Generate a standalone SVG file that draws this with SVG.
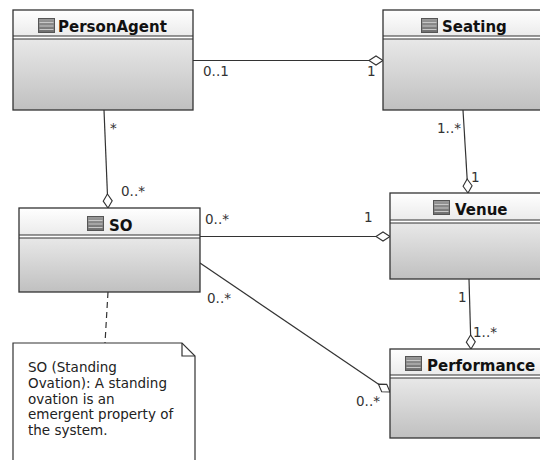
<svg xmlns="http://www.w3.org/2000/svg" xmlns:xlink="http://www.w3.org/1999/xlink" width="540" height="460" viewBox="0 0 540 460">
<style>
.hdr{fill:url(#hdrGrad);}
.body{fill:url(#bodyGrad);}
.frame{fill:none;stroke:#333;stroke-width:1.3;}
.div{stroke:#333;stroke-width:1.1;}
.title{font-family:"DejaVu Sans",sans-serif;font-weight:bold;font-size:15px;fill:#111;}
.lbl{font-family:"DejaVu Sans",sans-serif;font-size:13.5px;fill:#333;}
.note{font-family:"DejaVu Sans",sans-serif;font-size:13.5px;fill:#222;}
.conn{stroke:#333;stroke-width:1.2;fill:none;}
</style>
<defs>
<linearGradient id="hdrGrad" x1="0" y1="0" x2="0" y2="1">
<stop offset="0" stop-color="#ffffff"/>
<stop offset="1" stop-color="#ebebeb"/>
</linearGradient>
<linearGradient id="bodyGrad" x1="0" y1="0" x2="0" y2="1">
<stop offset="0" stop-color="#e8e8e8"/>
<stop offset="1" stop-color="#c0c0c0"/>
</linearGradient>
<linearGradient id="iconGrad" x1="0" y1="0" x2="0" y2="1">
<stop offset="0" stop-color="#9a9a9a"/>
<stop offset="1" stop-color="#6e6e6e"/>
</linearGradient>
<g id="icon">
<rect x="0.5" y="0.5" width="16" height="14" fill="url(#iconGrad)" stroke="#555" stroke-width="1"/>
<path d="M1.5,4.5 H15.5 M1.5,8 H15.5 M1.5,11.5 H15.5" stroke="#c8c8c8" stroke-width="1"/>
</g>
<marker id="dia" viewBox="-1 -6 17 12" refX="14" refY="0" markerWidth="17" markerHeight="12" markerUnits="userSpaceOnUse" orient="auto">
<path d="M0,0 L7,-4.5 L14,0 L7,4.5 Z" fill="#fff" stroke="#333" stroke-width="1.1"/>
</marker>
</defs>
<rect width="540" height="460" fill="#fff"/>

<g id="connectors">
<path class="conn" d="M193,60.5 L383,60.5" marker-end="url(#dia)"/>
<path class="conn" d="M104,110 L108,208" marker-end="url(#dia)"/>
<path class="conn" d="M463,110 L468,193" marker-end="url(#dia)"/>
<path class="conn" d="M200,236.5 L390,236.5" marker-end="url(#dia)"/>
<path class="conn" d="M200,263 L390,392" marker-end="url(#dia)"/>
<path class="conn" d="M469,279 L471,349" marker-end="url(#dia)"/>
<path class="conn" d="M108,292 L105,343" stroke-dasharray="6,4"/>
<text class="lbl" x="203" y="76">0..1</text>
<text class="lbl" x="367" y="76">1</text>
<text class="lbl" x="110" y="133">*</text>
<text class="lbl" x="121" y="196">0..*</text>
<text class="lbl" x="437" y="133">1..*</text>
<text class="lbl" x="471" y="182">1</text>
<text class="lbl" x="205" y="224">0..*</text>
<text class="lbl" x="364" y="222">1</text>
<text class="lbl" x="207" y="303">0..*</text>
<text class="lbl" x="458" y="302">1</text>
<text class="lbl" x="473" y="337">1..*</text>
<text class="lbl" x="356" y="406">0..*</text>
</g>

<g id="PersonAgent">
<rect class="hdr" x="13" y="10" width="180" height="26"/>
<rect class="body" x="13" y="39" width="180" height="71"/>
<line class="div" x1="13" y1="36" x2="193" y2="36"/>
<line class="div" x1="13" y1="39" x2="193" y2="39"/>
<rect class="frame" x="13" y="10" width="180" height="100"/>
<use xlink:href="#icon" x="38" y="18"/>
<text class="title" x="58" y="32">PersonAgent</text>
</g>

<g id="Seating">
<rect class="hdr" x="383" y="10" width="160" height="26"/>
<rect class="body" x="383" y="39" width="160" height="71"/>
<line class="div" x1="383" y1="36" x2="543" y2="36"/>
<line class="div" x1="383" y1="39" x2="543" y2="39"/>
<rect class="frame" x="383" y="10" width="160" height="100"/>
<use xlink:href="#icon" x="421" y="18"/>
<text class="title" x="442" y="32">Seating</text>
</g>

<g id="SO">
<rect class="hdr" x="19" y="208" width="181" height="27"/>
<rect class="body" x="19" y="238" width="181" height="54"/>
<line class="div" x1="19" y1="235" x2="200" y2="235"/>
<line class="div" x1="19" y1="238" x2="200" y2="238"/>
<rect class="frame" x="19" y="208" width="181" height="84"/>
<use xlink:href="#icon" x="87" y="216"/>
<text class="title" x="109" y="231">SO</text>
</g>

<g id="Venue">
<rect class="hdr" x="390" y="193" width="160" height="27"/>
<rect class="body" x="390" y="223" width="160" height="56"/>
<line class="div" x1="390" y1="220" x2="550" y2="220"/>
<line class="div" x1="390" y1="223" x2="550" y2="223"/>
<rect class="frame" x="390" y="193" width="160" height="86"/>
<use xlink:href="#icon" x="433" y="200"/>
<text class="title" x="455" y="215">Venue</text>
</g>

<g id="Performance">
<rect class="hdr" x="390" y="349" width="160" height="26"/>
<rect class="body" x="390" y="378" width="160" height="60"/>
<line class="div" x1="390" y1="375" x2="550" y2="375"/>
<line class="div" x1="390" y1="378" x2="550" y2="378"/>
<rect class="frame" x="390" y="349" width="160" height="89"/>
<use xlink:href="#icon" x="405" y="356"/>
<text class="title" x="427" y="371">Performance</text>
</g>

<g id="Note">
<path d="M13,343 L182,343 L195,356 L195,470 L13,470 Z" fill="#fff" stroke="#333" stroke-width="1.2"/>
<path d="M182,343 L182,356 L195,356" fill="none" stroke="#333" stroke-width="1.2"/>
<text class="note" x="28" y="372">SO (Standing</text>
<text class="note" x="28" y="388">Ovation): A standing</text>
<text class="note" x="28" y="404">ovation is an</text>
<text class="note" x="28" y="419">emergent property of</text>
<text class="note" x="28" y="435">the system.</text>
</g>
</svg>
